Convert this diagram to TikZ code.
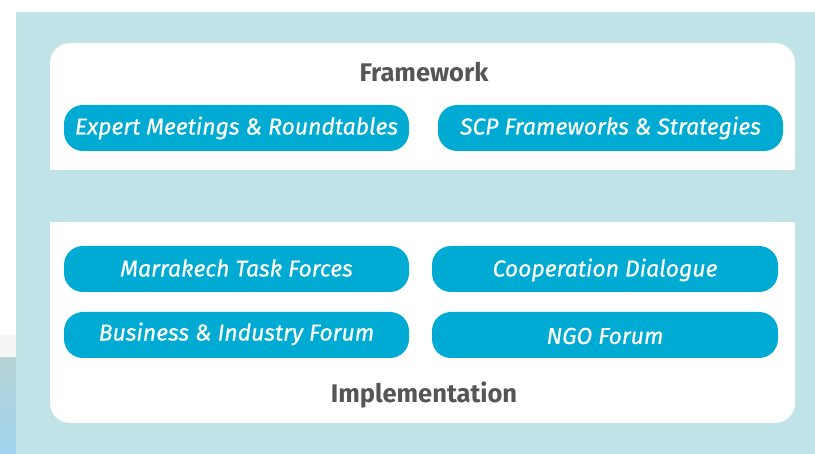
\documentclass[tikz,border=0pt]{standalone}
\usepackage{fontspec}
\setmainfont{Fira Sans}
\newfontfamily\pillfont[FakeBold=0.6]{Fira Sans}
\definecolor{bgteal}{HTML}{C0E3E7}
\definecolor{pill}{HTML}{00ABD3}
\definecolor{headgray}{HTML}{555555}
\definecolor{photoblue}{HTML}{A0D4EE}
\begin{document}
\begin{tikzpicture}[x=1pt,y=-1pt,
  pillbox/.style={fill=pill,rounded corners=19pt,draw=none},
  pilltext/.style={text=white,font=\fontsize{23}{26}\pillfont\itshape,inner sep=0pt},
  headtext/.style={text=headgray,font=\fontsize{25.5}{30}\selectfont\bfseries,inner sep=0pt}]
\useasboundingbox (0,0) rectangle (815,454);
\fill[white] (0,0) rectangle (815,454);
\fill[bgteal] (16,12) rectangle (815,454);
% photo remnant at left edge
\fill[white!92!gray] (0,335) rectangle (16,358);
\shade[top color=bgteal!85!gray,bottom color=photoblue] (0,358) rectangle (16,454);
% panels
\fill[white,rounded corners=20pt] (50,43) rectangle (795,170);
\fill[white] (50,140) rectangle (795,170);
\fill[white,rounded corners=20pt] (50,222) rectangle (795,423);
\fill[white] (50,222) rectangle (795,260);
% headings
\node[headtext] (fw) at (424,72) {Framework};
\node[headtext] (impl) at (424,395) {Implementation};
% pills
\fill[pillbox] (64,105) rectangle (409,151);
\node[pilltext] (em) at (236.5,128) {Expert Meetings \& Roundtables};
\fill[pillbox] (438,105) rectangle (783,151);
\node[pilltext] (scp) at (610.5,128) {SCP Frameworks \& Strategies};
\fill[pillbox] (64,246) rectangle (409,292);
\node[pilltext] (mtf) at (236.5,268) {Marrakech Task Forces};
\fill[pillbox] (432,246) rectangle (778,292);
\node[pilltext] (cd) at (605,270) {Cooperation Dialogue};
\fill[pillbox] (64,312) rectangle (409,358);
\node[pilltext] (bif) at (236.5,334) {Business \& Industry Forum};
\fill[pillbox] (432,312) rectangle (778,358);
\node[pilltext] (ngo) at (605,336) {NGO Forum};
\end{tikzpicture}
\end{document}
